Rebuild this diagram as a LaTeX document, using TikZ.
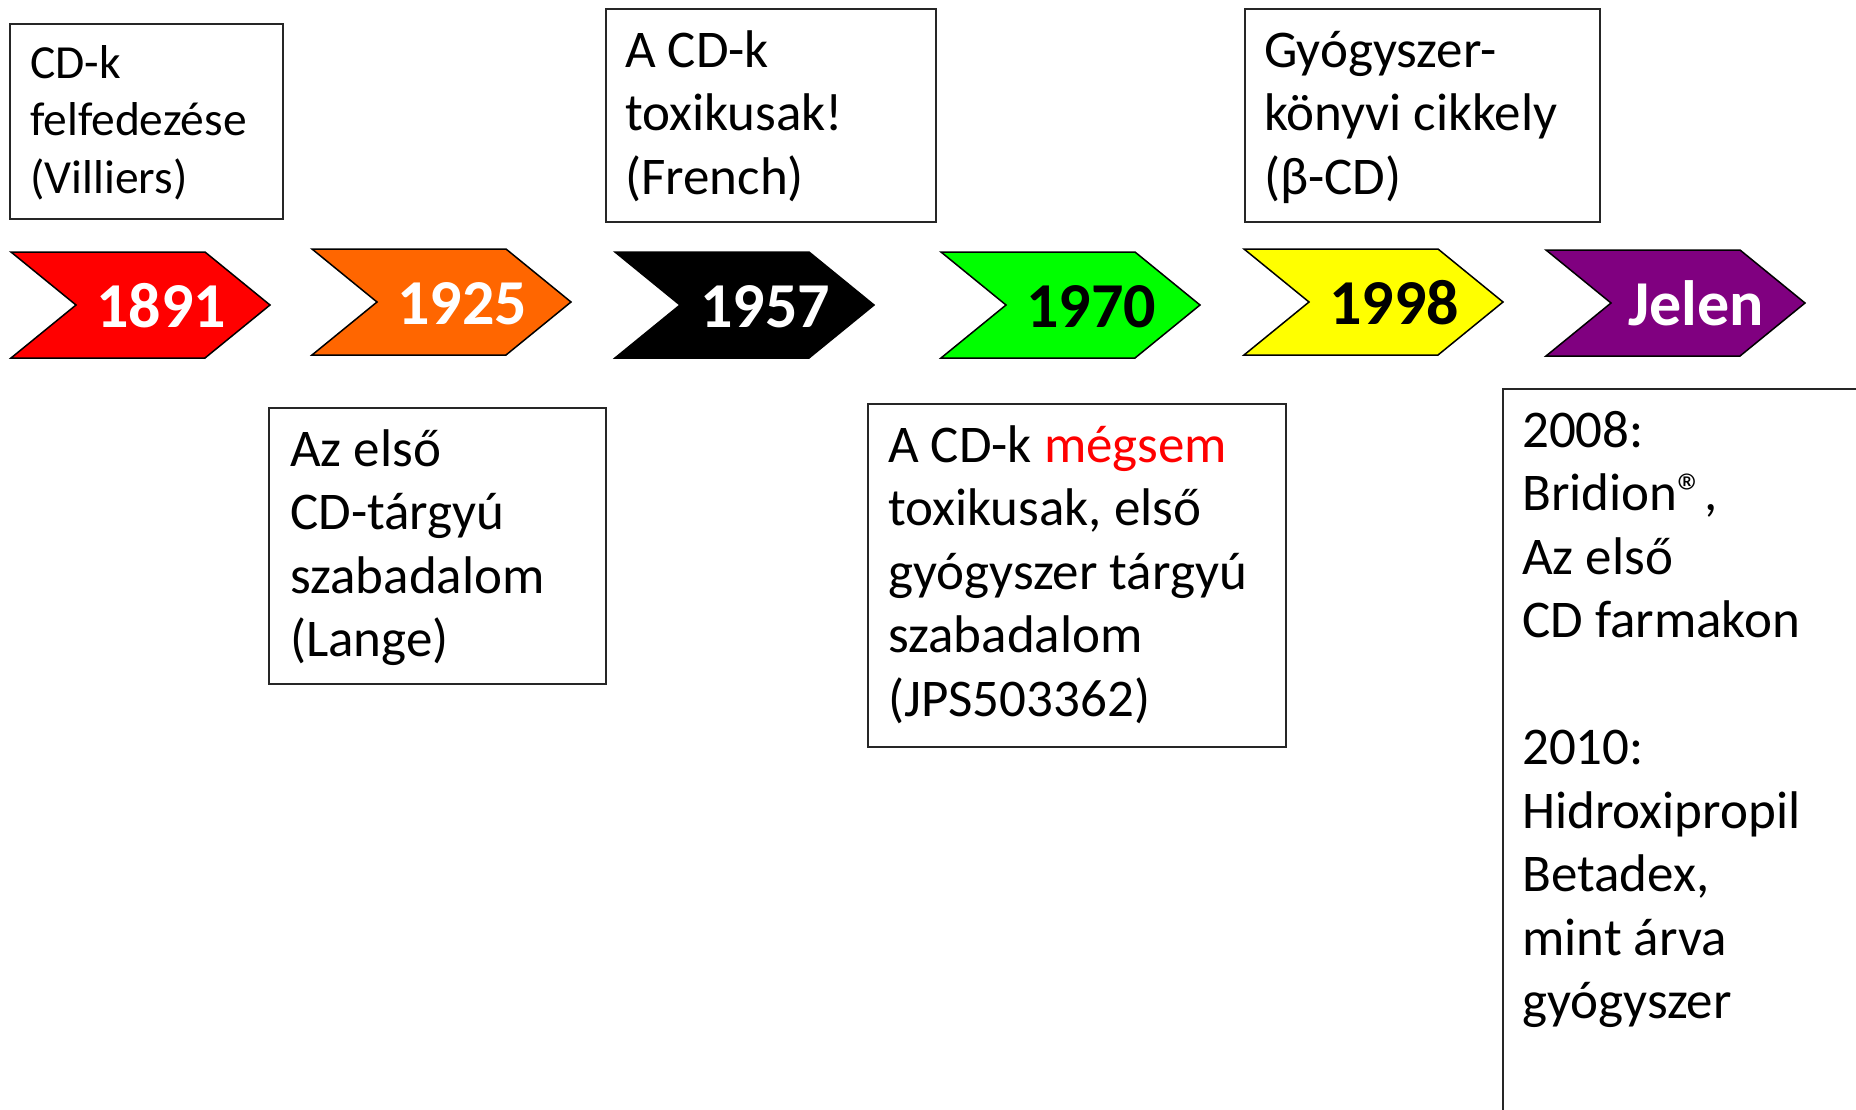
\documentclass[tikz,border=0pt]{standalone}
\usepackage{fontspec}
\setmainfont{Carlito}
\definecolor{cOrange}{HTML}{FF6600}
\definecolor{cGreen}{HTML}{00FF00}
\definecolor{cYellow}{HTML}{FFFF00}
\definecolor{cPurple}{HTML}{800080}
\definecolor{cRed}{HTML}{FF0000}
\tikzset{
  evbox/.style={draw=black!85, line width=1.8pt, inner sep=0pt, anchor=north west},
  yrtext/.style={font=\fontsize{64}{70}\selectfont\bfseries, anchor=base, inner sep=0pt},
  chevshape/.style={draw=black, line width=1.5pt, line join=miter},
  boxtext/.style={anchor=base west, inner sep=0pt},
}
\newcommand\mychev[4]{%
  \draw[chevshape, fill=#3] (#1,#2) -- ++(194,0) -- ++(65,53) -- ++(-65,53) -- ++(-194,0) -- ++(65,-53) -- cycle;
  \node[yrtext, text=#4] at ({#1+150},{#2+75})}
\newcommand\boxtxt[3]{\parbox[t]{420pt}{\fontsize{#1}{#2}\selectfont\raggedright #3}}
\begin{document}
\begin{tikzpicture}[x=1pt, y=-1pt]
\useasboundingbox[fill=white] (0,0) rectangle (1856,1109);
\clip (0,0) rectangle (1856,1109);

% chevrons
\mychev{11}{252}{cRed}{white} (y1891) {1891};
\mychev{312}{249}{cOrange}{white} (y1925) {1925};
\mychev{615}{252}{black}{white} (y1957) {1957};
\mychev{941}{252}{cGreen}{black} (y1970) {1970};
\mychev{1244}{249}{cYellow}{black} (y1998) {1998};
\mychev{1546}{250}{cPurple}{white} (yJelen) {Jelen};

% boxes
\node[evbox, minimum width=273pt, minimum height=195pt] (b1) at (9,23) {};
\node[boxtext] (t1) at (30,78) {\boxtxt{47.5}{57.5}{CD-k\\felfedezése\\(Villiers)}};

\node[evbox, minimum width=330pt, minimum height=213pt] (b2) at (605,8) {};
\node[boxtext] (t2) at (625,67) {\boxtxt{53}{63.5}{A CD-k\\toxikusak!\\(French)}};

\node[evbox, minimum width=355pt, minimum height=213pt] (b3) at (1244,8) {};
\node[boxtext] (t3) at (1264,67) {\boxtxt{53}{63.5}{Gyógyszer-\\könyvi cikkely\\(β-CD)}};

\node[evbox, minimum width=337pt, minimum height=276pt] (b4) at (268,407) {};
\node[boxtext] (t4) at (290,466) {\boxtxt{53}{63.5}{Az első\\CD-tárgyú\\szabadalom\\(Lange)}};

\node[evbox, minimum width=418pt, minimum height=343pt] (b5) at (867,403) {};
\node[boxtext] (t5) at (888,462) {\boxtxt{53}{63.5}{A CD-k \textcolor{cRed}{mégsem}\\toxikusak, első\\gyógyszer tárgyú\\szabadalom\\(JPS503362)}};

\node[evbox, minimum width=420pt, minimum height=800pt] (b6) at (1502,388) {};
\node[boxtext] (t6) at (1522,447) {\boxtxt{53}{63.5}{2008:\\Bridion®,\\Az első\\CD farmakon\\[63.5pt]2010:\\Hidroxipropil\\Betadex,\\mint árva\\gyógyszer}};
\end{tikzpicture}
\end{document}
